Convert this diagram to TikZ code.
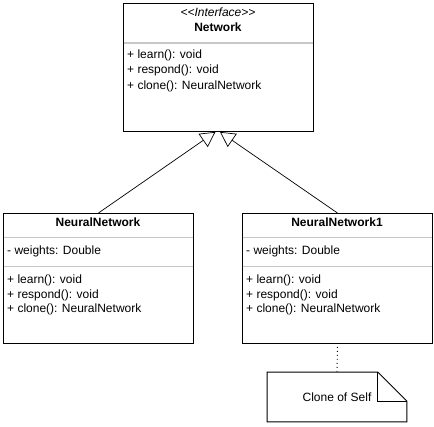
\documentclass[tikz,border=0pt]{standalone}
\usepackage{fontspec}
\setmainfont{Liberation Sans}
\usetikzlibrary{arrows.meta}
\begin{document}
\begin{tikzpicture}[x=1pt,y=-1pt,
  umlbox/.style={draw=black, line width=0.9pt, rectangle, minimum width=190pt, inner sep=0pt, anchor=north west, fill=white},
  sepline/.style={draw=black!22, line width=1.2pt},
  member/.style={anchor=west, inner sep=0pt, font=\fontsize{12}{14}\selectfont},
  classtitle/.style={inner sep=0pt, font=\fontsize{12}{14}\selectfont\bfseries},
  stereo/.style={inner sep=0pt, font=\fontsize{12}{14}\selectfont\itshape},
  inherit/.style={line width=0.7pt, -{Triangle[open, length=15pt, width=16pt, fill=white]}},
  notebox/.style={minimum width=139.4pt, minimum height=49.4pt, inner sep=0pt, font=\fontsize{12}{14}\selectfont},
]
\useasboundingbox (0,0) rectangle (434,427);

% class boxes
\node[umlbox, minimum height=128pt] (net) at (123,3) {};
\node[umlbox, minimum height=130pt] (nn) at (3,213) {};
\node[umlbox, minimum height=130pt] (nn1) at (242,213) {};

% separators
\draw[sepline] ([xshift=0.5pt]net.north west |- 0,43) -- ([xshift=-0.5pt]net.north east |- 0,43);
\draw[sepline] ([xshift=0.5pt]nn.north west |- 0,237.5) -- ([xshift=-0.5pt]nn.north east |- 0,237.5);
\draw[sepline] ([xshift=0.5pt]nn.north west |- 0,266.7) -- ([xshift=-0.5pt]nn.north east |- 0,266.7);
\draw[sepline] ([xshift=0.5pt]nn1.north west |- 0,237.5) -- ([xshift=-0.5pt]nn1.north east |- 0,237.5);
\draw[sepline] ([xshift=0.5pt]nn1.north west |- 0,266.7) -- ([xshift=-0.5pt]nn1.north east |- 0,266.7);

% Network (interface)
\node[stereo] (netS) at (218,12.5) {<\kern0pt<Interface>\kern0pt>};
\node[classtitle] (netT) at (218,27) {Network};
\node[member] (netM1) at (127,55) {+ learn(): void};
\node[member] (netM2) at (127,70.5) {+ respond(): void};
\node[member] (netM3) at (127,86) {+ clone(): NeuralNetwork};

% NeuralNetwork
\node[classtitle] (nnT) at (98,222) {NeuralNetwork};
\node[member] (nnA1) at (7,251.7) {- weights: Double};
\node[member] (nnM1) at (7,280) {+ learn(): void};
\node[member] (nnM2) at (7,295) {+ respond(): void};
\node[member] (nnM3) at (7,309.5) {+ clone(): NeuralNetwork};

% NeuralNetwork1
\node[classtitle] (nn1T) at (337,222) {NeuralNetwork1};
\node[member] (nn1A1) at (246,251.7) {- weights: Double};
\node[member] (nn1M1) at (246,280) {+ learn(): void};
\node[member] (nn1M2) at (246,295) {+ respond(): void};
\node[member] (nn1M3) at (246,309.5) {+ clone(): NeuralNetwork};

% note
\node[notebox] (note) at (337,397) {Clone of Self};
\draw[line width=0.9pt] (note.north west) -- ([xshift=-29pt]note.north east) -- ([yshift=-29pt]note.north east) -- (note.south east) -- (note.south west) -- cycle;
\draw[line width=0.9pt] ([xshift=-29pt]note.north east) -- ([xshift=-29pt,yshift=-29pt]note.north east) -- ([yshift=-29pt]note.north east);

% connectors
\draw[inherit] (nn.north) -- ([xshift=-3pt]net.south);
\draw[inherit] (nn1.north) -- ([xshift=1.5pt]net.south);
\draw[line width=0.9pt, dash pattern=on 1pt off 3pt] ([yshift=-3pt]nn1.south) -- (note.north);
\end{tikzpicture}
\end{document}
